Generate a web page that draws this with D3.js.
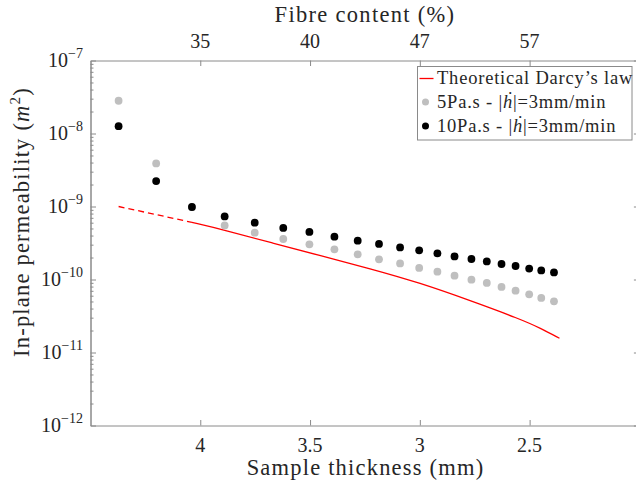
<!DOCTYPE html>
<html>
<head>
<meta charset="utf-8">
<script src="https://cdn.jsdelivr.net/npm/d3@7"></script>
<style>
  html, body { margin: 0; padding: 0; background: #fff; }
  svg { display: block; }
  text { font-family: "Liberation Serif", "DejaVu Serif", serif; fill: #262626; }
</style>
</head>
<body>
<svg id="chart" width="636" height="481"></svg>
<script>
// ---- data ----
const thickness = [4.372, 4.201, 4.038, 3.889, 3.752, 3.622, 3.503, 3.389, 3.283, 3.186, 3.090,
                   3.003, 2.920, 2.842, 2.765, 2.695, 2.628, 2.564, 2.502, 2.447, 2.389];
const perm5 = [2.81e-8, 3.89e-9, 9.8e-10, 5.51e-10, 4.38e-10, 3.59e-10, 3.03e-10, 2.59e-10, 2.21e-10, 1.89e-10, 1.66e-10,
               1.44e-10, 1.28e-10, 1.13e-10, 9.95e-11, 8.97e-11, 7.91e-11, 7.04e-11, 6.26e-11, 5.59e-11, 5.02e-11];
const perm10 = [1.26e-8, 2.23e-9, 9.85e-10, 7.32e-10, 6.0e-10, 5.08e-10, 4.48e-10, 3.86e-10, 3.40e-10, 3.07e-10, 2.75e-10,
                2.51e-10, 2.28e-10, 2.07e-10, 1.91e-10, 1.77e-10, 1.63e-10, 1.53e-10, 1.41e-10, 1.33e-10, 1.25e-10];
const darcyDashedT = [4.372, 4.038];
const darcyDashedK = [1.0e-9, 6.06e-10];
const darcyT = [4.038, 3.886, 3.670, 3.454, 3.227, 2.999, 2.771, 2.543, 2.450, 2.364];
const darcyK = [6.06e-10, 4.74e-10, 3.15e-10, 2.12e-10, 1.41e-10, 8.97e-11, 5.15e-11, 2.87e-11, 2.15e-11, 1.565e-11];
const thicknessTicks = [4, 3.5, 3, 2.5];
const fibreTicks = [35, 40, 47, 57];
const yExponents = [-7, -8, -9, -10, -11, -12];
const legendLabels = ["Theoretical Darcy\u2019s law", "5Pa.s - |", "10Pa.s - |"];

// ---- layout ----
const L = 90.5, R = 639.4, T = 60.5, B = 425.5;
const axisColor = "#8a8a8a";
const svg = d3.select("#chart");

const x = d3.scaleLinear().domain([4.5, 2.0]).range([L, R]);
const y = d3.scaleLog().domain([1e-12, 1e-7]).range([B, T]);

// minor log ticks
const minorVals = [];
for (let e = -12; e < -7; e++) for (let m = 2; m <= 9; m++) minorVals.push(m * Math.pow(10, e));
const majorVals = yExponents.map(e => Math.pow(10, e));

function styleAxis(g) {
  g.select(".domain").attr("stroke", axisColor);
  g.selectAll(".tick line").attr("stroke", axisColor);
}

// left axis
styleAxis(svg.append("g").attr("transform", `translate(${L},0)`)
  .call(d3.axisRight(y).tickValues(minorVals).tickSize(3).tickSizeOuter(0).tickFormat("")));
styleAxis(svg.append("g").attr("transform", `translate(${L},0)`)
  .call(d3.axisRight(y).tickValues(majorVals).tickSize(5.5).tickSizeOuter(0).tickFormat("")));
// right axis
styleAxis(svg.append("g").attr("transform", `translate(${R},0)`)
  .call(d3.axisLeft(y).tickValues(minorVals).tickSize(3).tickSizeOuter(0).tickFormat("")));
styleAxis(svg.append("g").attr("transform", `translate(${R},0)`)
  .call(d3.axisLeft(y).tickValues(majorVals).tickSize(5.5).tickSizeOuter(0).tickFormat("")));

// y tick labels
yExponents.forEach(e => {
  const t = svg.append("text").attr("x", 83).attr("y", y(Math.pow(10, e)) + 6.5)
    .attr("text-anchor", "end").attr("font-size", 20);
  t.append("tspan").text("10");
  t.append("tspan").attr("font-size", 14).attr("dy", -9).text("\u2212" + Math.abs(e));
});

// bottom axis
styleAxis(svg.append("g").attr("transform", `translate(0,${B})`)
  .call(d3.axisTop(x).tickValues(thicknessTicks).tickSize(5.5).tickSizeOuter(0).tickFormat("")));
thicknessTicks.forEach(v => {
  svg.append("text").attr("x", x(v)).attr("y", 452).attr("text-anchor", "middle")
    .attr("font-size", 20).text(d3.format("")(v));
});
// top axis
styleAxis(svg.append("g").attr("transform", `translate(0,${T})`)
  .call(d3.axisBottom(x).tickValues(thicknessTicks).tickSize(5.5).tickSizeOuter(0).tickFormat("")));
thicknessTicks.forEach((v, i) => {
  svg.append("text").attr("x", x(v)).attr("y", 48).attr("text-anchor", "middle")
    .attr("font-size", 20).text(fibreTicks[i]);
});

// axis titles
svg.append("text").attr("x", 365).attr("y", 22).attr("text-anchor", "middle")
  .attr("font-size", 22.5).attr("letter-spacing", 1.3).text("Fibre content (%)");
svg.append("text").attr("x", 365.5).attr("y", 475).attr("text-anchor", "middle")
  .attr("font-size", 22.5).attr("letter-spacing", 1.2).text("Sample thickness (mm)");
const yl = svg.append("text").attr("transform", "translate(29,222) rotate(-90)")
  .attr("text-anchor", "middle").attr("font-size", 22.5).attr("letter-spacing", 1.2);
yl.append("tspan").text("In-plane permeability (");
yl.append("tspan").attr("font-style", "italic").text("m");
yl.append("tspan").attr("font-size", 15).attr("dy", -9).text("2");
yl.append("tspan").attr("dy", 9).text(")");

// data
svg.append("clipPath").attr("id", "clip").append("rect")
  .attr("x", L).attr("y", T).attr("width", R - L).attr("height", B - T);
const plot = svg.append("g").attr("clip-path", "url(#clip)");

const dashLine = d3.line().x(d => x(d[0])).y(d => y(d[1]));
const line = d3.line().x(d => x(d[0])).y(d => y(d[1])).curve(d3.curveBasis);
plot.append("path").datum(darcyDashedT.map((t, i) => [t, darcyDashedK[i]]))
  .attr("d", dashLine).attr("fill", "none").attr("stroke", "#ff0000").attr("stroke-width", 1.3)
  .attr("stroke-dasharray", "6,4");
plot.append("path").datum(darcyT.map((t, i) => [t, darcyK[i]]))
  .attr("d", line).attr("fill", "none").attr("stroke", "#ff0000").attr("stroke-width", 1.3);

plot.selectAll("circle.g5").data(thickness).join("circle").attr("class", "g5")
  .attr("cx", d => x(d)).attr("cy", (d, i) => y(perm5[i])).attr("r", 3.9).attr("fill", "#bfbfbf");
plot.selectAll("circle.g10").data(thickness).join("circle").attr("class", "g10")
  .attr("cx", d => x(d)).attr("cy", (d, i) => y(perm10[i])).attr("r", 3.9).attr("fill", "#000");

// legend
const lg = svg.append("g");
lg.append("rect").attr("x", 417.5).attr("y", 66.5).attr("width", 214.5).attr("height", 73.5)
  .attr("fill", "#fff").attr("stroke", "#8a8a8a").attr("stroke-width", 1);
const rows = [78.5, 102, 126];
lg.append("line").attr("x1", 419.5).attr("x2", 433.5).attr("y1", rows[0]).attr("y2", rows[0])
  .attr("stroke", "#ff0000").attr("stroke-width", 1.3);
lg.append("circle").attr("cx", 425.5).attr("cy", rows[1]).attr("r", 3.5).attr("fill", "#bfbfbf");
lg.append("circle").attr("cx", 425.5).attr("cy", rows[2]).attr("r", 3.5).attr("fill", "#000");
lg.append("text").attr("x", 437).attr("y", rows[0] + 5.5).attr("font-size", 18.5)
  .attr("letter-spacing", 0.8).text(legendLabels[0]);
[1, 2].forEach(i => {
  const t = lg.append("text").attr("x", 437).attr("y", rows[i] + 5.5).attr("font-size", 18.5)
    .attr("letter-spacing", 0.8);
  t.append("tspan").text(legendLabels[i]);
  t.append("tspan").attr("font-style", "italic").text("\u1E23");
  t.append("tspan").text("|=3mm/min");
});
</script>
</body>
</html>
